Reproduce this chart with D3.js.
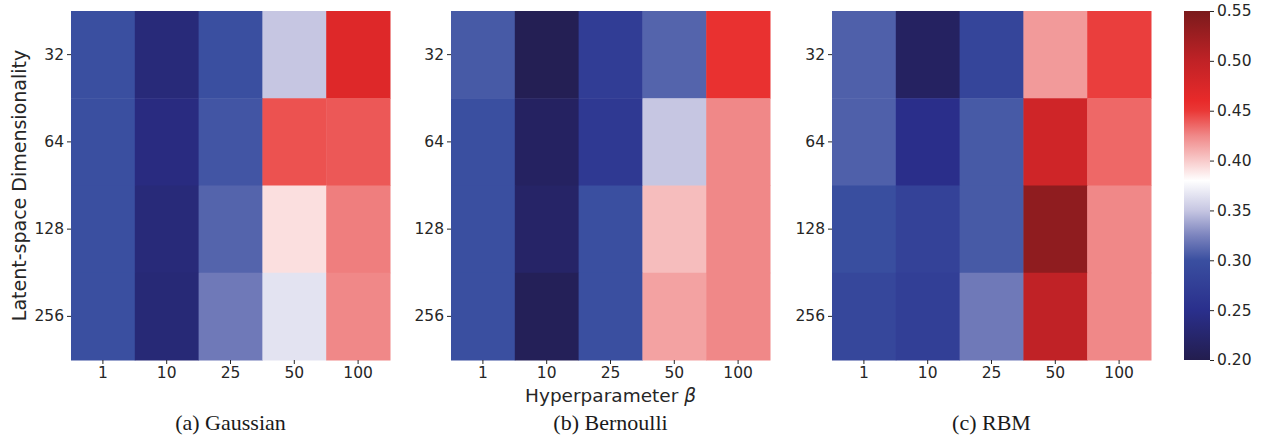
<!DOCTYPE html>
<html>
<head>
<meta charset="utf-8">
<script src="https://cdn.jsdelivr.net/npm/d3@7"></script>
<style>
  html, body { margin: 0; padding: 0; background: #fff; }
  svg { display: block; }
</style>
</head>
<body>
<svg id="chart" width="1269" height="437"></svg>
<script>
const betas = ["1", "10", "25", "50", "100"];
const dims = ["32", "64", "128", "256"];
const panelTitles = ["(a) Gaussian", "(b) Bernoulli", "(c) RBM"];
// rows = dims, cols = betas
const gaussian = [
  [0.300, 0.235, 0.300, 0.350, 0.470],
  [0.300, 0.240, 0.303, 0.442, 0.440],
  [0.300, 0.235, 0.310, 0.392, 0.428],
  [0.300, 0.232, 0.320, 0.365, 0.425]
];
const bernoulli = [
  [0.305, 0.205, 0.272, 0.310, 0.455],
  [0.300, 0.215, 0.265, 0.350, 0.425],
  [0.300, 0.220, 0.300, 0.405, 0.425],
  [0.300, 0.208, 0.300, 0.415, 0.425]
];
const rbm = [
  [0.308, 0.215, 0.285, 0.418, 0.448],
  [0.308, 0.248, 0.305, 0.485, 0.435],
  [0.298, 0.280, 0.305, 0.535, 0.425],
  [0.288, 0.275, 0.320, 0.500, 0.425]
];
const cbTicks = [0.20, 0.25, 0.30, 0.35, 0.40, 0.45, 0.50, 0.55];
const colorStops = [0.20, 0.25, 0.30, 0.325, 0.35, 0.38, 0.40, 0.425, 0.45, 0.46, 0.50, 0.55];
const colorRange = ["#231d4e", "#2a2f8c", "#3a4fa0", "#7c84be", "#c6c6e2", "#ffffff", "#f8caca", "#f08888", "#ea3836", "#e82a2a", "#c02226", "#7a1a1c"];

(function () {
const panels = [gaussian, bernoulli, rbm];
const svg = d3.select("#chart");
const color = d3.scaleLinear().domain(colorStops).range(colorRange).clamp(true);

const panelLeft = [71, 451, 832];
const pw = 319, plotTop = 11, ph = 349;
const tickFont = "DejaVu Sans, sans-serif";
const textColor = "#262626";

panels.forEach((data, pi) => {
  const g = svg.append("g").attr("transform", `translate(${panelLeft[pi]},${plotTop})`);
  const x = d3.scaleBand().domain(betas).range([0, pw]);
  const y = d3.scaleBand().domain(dims).range([0, ph]);
  dims.forEach((d, ri) => {
    betas.forEach((b, ci) => {
      g.append("rect")
        .attr("x", x(b)).attr("y", y(d))
        .attr("width", x.bandwidth() + 0.5).attr("height", y.bandwidth() + 0.5)
        .attr("fill", color(data[ri][ci]));
    });
  });
  const xa = g.append("g").attr("transform", `translate(0,${ph})`)
    .call(d3.axisBottom(x).tickSize(4).tickPadding(3));
  const ya = g.append("g").call(d3.axisLeft(y).tickSize(4).tickPadding(3));
  [xa, ya].forEach(a => {
    a.select(".domain").remove();
    a.selectAll("line").attr("stroke", textColor).attr("stroke-width", 1);
    a.selectAll("text").attr("font-family", tickFont).attr("font-size", 15.5).attr("fill", textColor);
  });
  svg.append("text")
    .attr("x", panelLeft[pi] + pw / 2).attr("y", 430)
    .attr("text-anchor", "middle")
    .attr("font-family", "Liberation Serif, Times New Roman, serif")
    .attr("font-size", 22).attr("fill", "#1a1a1a")
    .text(panelTitles[pi]);
});

svg.append("text")
  .attr("transform", `translate(26,${plotTop + ph / 2}) rotate(-90)`)
  .attr("text-anchor", "middle")
  .attr("font-family", tickFont).attr("font-size", 19).attr("fill", textColor)
  .text("Latent-space Dimensionality");

const xl = svg.append("text")
  .attr("x", panelLeft[1] + pw / 2).attr("y", 402)
  .attr("text-anchor", "middle")
  .attr("font-family", tickFont).attr("font-size", 18.5).attr("fill", textColor);
xl.append("tspan").text("Hyperparameter ");
xl.append("tspan").attr("font-style", "italic").text("β");

// colorbar
const cbX = 1184, cbW = 26;
const cbScale = d3.scaleLinear().domain([0.20, 0.55]).range([plotTop + ph, plotTop]);
const defs = svg.append("defs");
const grad = defs.append("linearGradient").attr("id", "cbgrad")
  .attr("x1", 0).attr("y1", 1).attr("x2", 0).attr("y2", 0);
colorStops.forEach(v => {
  grad.append("stop").attr("offset", (v - 0.20) / 0.35).attr("stop-color", color(v));
});
svg.append("rect").attr("x", cbX).attr("y", plotTop).attr("width", cbW).attr("height", ph)
  .attr("fill", "url(#cbgrad)");
const cba = svg.append("g").attr("transform", `translate(${cbX + cbW},0)`)
  .call(d3.axisRight(cbScale).tickValues(cbTicks).tickFormat(d3.format(".2f")).tickSize(4).tickPadding(3));
cba.select(".domain").remove();
cba.selectAll("line").attr("stroke", textColor);
cba.selectAll("text").attr("font-family", tickFont).attr("font-size", 15.5).attr("fill", textColor);
})();
</script>
</body>
</html>
